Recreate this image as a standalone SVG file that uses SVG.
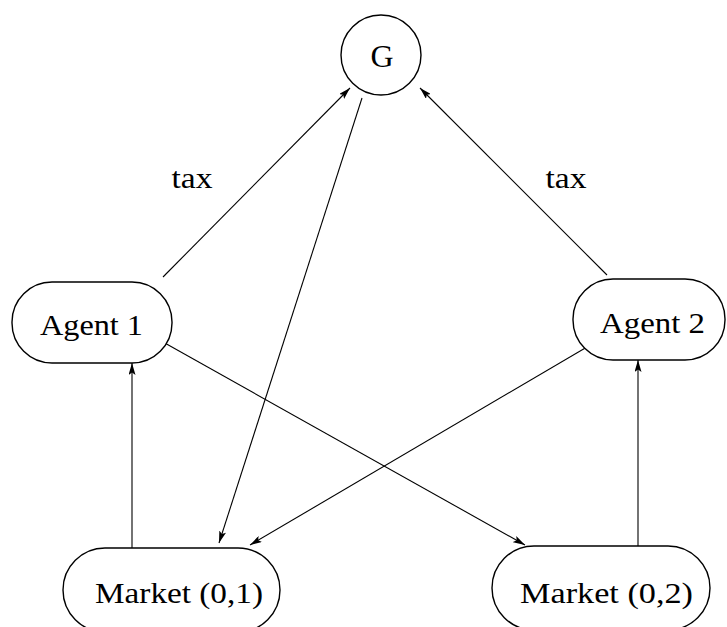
<svg xmlns="http://www.w3.org/2000/svg" width="727" height="627" viewBox="0 0 727 627">
<defs>
<marker id="ah" viewBox="0 0 12 7" refX="12" refY="3.5" markerWidth="12" markerHeight="7" markerUnits="userSpaceOnUse" orient="auto">
<path d="M0,0 L12,3.5 L0,7 L2.5,3.5 Z" fill="#000"/>
</marker>
</defs>
<style>
.n{fill:#fff;stroke:#000;stroke-width:1.4}
.t{font-family:"Liberation Serif","DejaVu Serif",serif;font-size:30px;fill:#000;text-anchor:middle}
.e{stroke:#000;stroke-width:1.1;fill:none;marker-end:url(#ah)}
</style>
<rect width="727" height="627" fill="#fff"/>
<g id="connectors">
<line class="e" x1="163" y1="277" x2="350" y2="88"/>
<line class="e" x1="607" y1="275" x2="420" y2="88"/>
<line class="e" x1="362" y1="98" x2="219" y2="543"/>
<line class="e" x1="604" y1="337" x2="250" y2="545"/>
<line class="e" x1="163" y1="342" x2="525" y2="545"/>
<line class="e" x1="132" y1="548" x2="132" y2="363"/>
<line class="e" x1="638" y1="546" x2="638" y2="360"/>
<text class="t" x="192" y="188" textLength="41" lengthAdjust="spacingAndGlyphs">tax</text>
<text class="t" x="566" y="188" textLength="41" lengthAdjust="spacingAndGlyphs">tax</text>
</g>
<g id="G">
<circle class="n" cx="381" cy="55" r="40"/>
<text class="t" x="382" y="67" style="font-size:32px">G</text>
</g>
<g id="agent1">
<rect class="n" x="12" y="282" width="160" height="81" rx="40"/>
<text class="t" x="91.5" y="335" textLength="103" lengthAdjust="spacingAndGlyphs">Agent 1</text>
</g>
<g id="agent2">
<rect class="n" x="573" y="279" width="152" height="81" rx="40"/>
<text class="t" x="652.5" y="333" textLength="105" lengthAdjust="spacingAndGlyphs">Agent 2</text>
</g>
<g id="market1">
<rect class="n" x="63" y="548" width="217" height="84" rx="42"/>
<text class="t" x="179" y="603" textLength="168" lengthAdjust="spacingAndGlyphs">Market (0,1)</text>
</g>
<g id="market2">
<rect class="n" x="492" y="546" width="218" height="84" rx="42"/>
<text class="t" x="606.5" y="603" textLength="173" lengthAdjust="spacingAndGlyphs">Market (0,2)</text>
</g>
</svg>
